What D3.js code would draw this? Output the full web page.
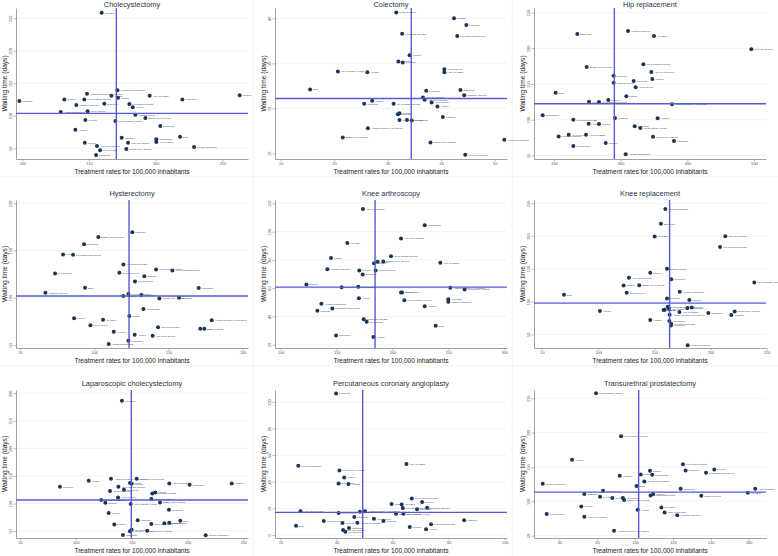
<!DOCTYPE html>
<html><head><meta charset="utf-8">
<script src="https://cdn.jsdelivr.net/npm/d3@7"></script>
<style>
body{margin:0;background:#fff}
svg{display:block}
text{font-family:"Liberation Sans",Arial,sans-serif}
</style>
</head><body>
<svg id="c" width="778" height="556"></svg>
<script>
const titles = ["Cholecystectomy","Colectomy","Hip replacement","Hysterectomy","Knee arthroscopy","Knee replacement","Laparoscopic cholecystectomy","Percutaneous coronary angioplasty","Transurethral prostatectomy"];
const xTitle = "Treatment rates for 100,000 inhabitants";
const yTitle = "Waiting time (days)";

const cholecystectomy = [
["Val d'Era",159.5,258.7],["Pistoiese",97.8,122.8],["Pratese",131.5,125],["Val di Chiana Senese",146.5,125],
["Amiata Senese e Val d'Orcia",148.5,134],["Firenze",166.8,131],["Fiorentina Nord-Ovest",171.3,139.2],["Pisana",171.8,128],
["Alta Val d'Elsa",195.5,131],["Casentino",220,125],["Mugello",263,131.5],["Valdarno Inferiore",140.5,116.7],
["Empolese",161.5,118.7],["Fiorentina Sud-Est",180.3,118.2],["Aretina",182.8,113.1],["Amiata Grossetana",128.8,105.9],
["Val di Nievole",149,107],["Piana di Lucca",184.8,101.8],["Bassa Val di Cecina",192.3,96.7],["Senese",147.3,93.6],
["Val di Chiana Aretina",169.8,92],["Livornese",203.5,84.4],["Apuane",139.8,78.7],["Valdarno",174.5,66.4],
["Elba",218.3,68],["Grossetana",200.5,63.8],["Val di Cornia",200.5,59.7],["Valle del Serchio",179.3,58.7],
["Versilia",146.8,58.7],["Alta Val di Cecina",156,53.6],["Colline dell'Albegna",178,49],["Colline Metallifere",228.8,52],
["Val Tiberina",158.3,46.9],["Lunigiana",155.3,39.7]];

const colectomy = [
["Piana di Lucca",31.6,41.3],["Pratese",42.4,40],["Pistoiese",44.7,38.5],["Fiorentina Nord-Ovest",43.0,36.1],
["Fiorentina Sud-Est",32.7,36.6],["Firenze",34.1,31.8],["Mugello",32.0,30.4],["Val d'Era",32.8,30.2],
["Val di Chiana Aretina",20.7,28.2],["Apuane",26.2,28],["Val di Nievole",40.6,28.7],["Alta Val d'Elsa",40.6,28.0],
["Elba",15.5,24.2],["Livornese",37.2,23.9],["Empolese",43.6,24.1],["Valdarno Inferiore",44.3,22.9],
["Valle del Serchio",36.6,22.4],["Alta Val di Cecina",36.9,21.9],["Val di Cornia",38.2,21.3],["Aretina",39.3,20.4],
["Pisana",27.1,21.7],["Lunigiana",25.6,21.0],["Val di Chiana Senese",31.1,21.0],["Casentino",31.9,18.7],
["Senese",32.2,18.9],["Valdarno",40.3,18.1],["Versilia",32.2,17.4],["Val Tiberina",33.6,17.4],
["Grossetana",34.5,17.3],["Amiata Senese e Val d'Orcia",26.3,15.6],["Bassa Val di Cecina",21.6,13.5],["Colline dell'Albegna",38.0,12.4],
["Amiata Grossetana",51.8,13.0],["Colline Metallifere",44.5,9.7]];

const hipReplacement = [
["Valdarno Inferiore",311,224.3],["Empolese",235,220.1],["Val d'Era",350,217.3],["Valle del Serchio",496,198.6],
["Val di Chiana Senese",334,177.6],["Bassa Val di Cecina",249,173.8],["Alta Val di Cecina",346,166.8],["Pistoiese",289.5,161.7],
["Versilia",347.5,157],["Livornese",319.5,154.2],["Piana di Lucca",289.5,151.9],["Val di Nievole",322.5,145.3],
["Elba",202.5,137.9],["Pisana",308.5,132.7],["Mugello",281.5,127.6],["Firenze",252.5,125.2],
["Fiorentina Nord-Ovest",267.5,124.8],["Amiata Senese e Val d'Orcia",377,121.5],["Grossetana",183,106.1],["Fiorentina Sud-Est",229,100],
["Valdarno",291.5,102.3],["Apuane",355.5,101.9],["Aretina",252,94.4],["Senese",267.5,93.9],
["Casentino",321,90.7],["Val di Chiana Aretina",329.5,88.3],["Colline dell'Albegna",348.5,76.2],["Lunigiana",380,70.1],
["Alta Val d'Elsa",248,79],["Val di Cornia",222,79],["Colline Metallifere",207,76.6],["Val Tiberina",229,63],
["Pratese",277.5,67.3],["Amiata Grossetana",307.5,51.4]];

const hysterectomy = [
["Pistoiese",125.6,169.4],["Bassa Val di Cecina",102.7,164.4],["Empolese",93.1,156.7],["Firenze",79,145.8],
["Fiorentina Nord-Ovest",85.7,145.4],["Fiorentina Sud-Est",119.6,135.2],["Val di Chiana Aretina",141.6,130],["Val di Chiana Senese",152.6,128.9],
["Piana di Lucca",116.9,126.4],["Val Tiberina",73.6,125.7],["Pratese",133.7,122.9],["Val di Nievole",127.4,117.3],
["Elba",93.8,110.6],["Casentino",170.3,110.2],["Valdarno Inferiore",67.1,105.3],["Colline Metallifere",123,103.9],
["Mugello",119.6,101.8],["Livornese",131.7,102.8],["Colline dell'Albegna",143.8,99.3],["Valdarno",157.1,100],
["Grossetana",133.1,88],["Pisana",123.6,80.6],["Versilia",86.4,78.2],["Val d'Era",105.9,76.8],
["Val di Cornia",97.4,70.8],["Amiata Senese e Val d'Orcia",179.1,76.1],["Valle del Serchio",142.9,68.7],["Senese",171.4,67.3],
["Alta Val d'Elsa",174.1,67.3],["Apuane",113.1,64.1],["Aretina",127.2,60.9],["Alta Val di Cecina",139.3,59.9],
["Lunigiana",123,54.6],["Amiata Grossetana",109.7,51]];

const kneeArthroscopy = [
["Valle del Serchio",173.6,116],["Grossetana",228.8,104.5],["Alta Val di Cecina",207.6,95.1],["Val d'Era",159.6,92],
["Pisana",145,81.4],["Val di Chiana Senese",198.7,82.6],["Firenze",186.7,78.6],["Mugello",183.5,77.6],
["Bassa Val di Cecina",191.8,78.8],["Alta Val d'Elsa",242.8,77.9],["Valdarno Inferiore",141.7,73.4],["Senese",170.3,72.5],
["Piana di Lucca",184.9,72.5],["Livornese",173.3,69.6],["Pratese",123,62.6],["Empolese",154.5,60.7],
["Val di Nievole",169.4,60.9],["Amiata Senese e Val d'Orcia",251.7,60.2],["Colline dell'Albegna",264.5,59.1],["Valdarno",207.6,56.9],
["Val di Cornia",208.5,56.9],["Val di Chiana Aretina",210.6,51.5],["Versilia",170,52.9],["Lunigiana",249.9,52.2],
["Colline Metallifere",249.9,50.4],["Apuane",228.8,47.1],["Amiata Grossetana",136.4,48.9],["Fiorentina Nord-Ovest",146.2,45.6],
["Pistoiese",132.8,44],["Fiorentina Sud-Est",174.2,37.9],["Val Tiberina",176.9,36.2],["Elba",238.6,33.4],
["Casentino",149.5,26.4],["Aretina",182.9,25.4]];

const kneeReplacement = [
["Valdarno Inferiore",159.8,241.4],["Empolese",155.9,219],["Val d'Era",150.3,199.2],["Valle del Serchio",213.2,199.7],
["Val di Chiana Senese",208.5,183.5],["Piana di Lucca",161.3,150],["Versilia",146.4,143.9],["Alta Val di Cecina",127.4,136.3],
["Livornese",165.1,134.3],["Val di Chiana Aretina",239,129.2],["Pisana",122.7,124.6],["Bassa Val di Cecina",136.6,125.1],
["Val di Nievole",125.4,113.5],["Amiata Grossetana",172.6,115],["Elba",69.6,110.4],["Pistoiese",161.3,104.8],
["Mugello",181.2,102.3],["Firenze",101.6,85.5],["Fiorentina Nord-Ovest",161.9,92.1],["Pratese",159.2,87.6],
["Senese",158.3,87.1],["Val di Cornia",163.1,89.1],["Grossetana",179.4,90.1],["Aretina",183.3,91.1],
["Alta Val d'Elsa",172.3,84],["Casentino",198.1,82.5],["Colline dell'Albegna",221.5,85],["Valdarno",218.5,79.4],
["Amiata Senese e Val d'Orcia",163.6,80],["Apuane",146.4,71.8],["Val Tiberina",163.4,70.3],["Fiorentina Sud-Est",165.1,65.7],
["Lunigiana",164.8,63.7],["Colline Metallifere",179.7,33.3]];

const lapCholecystectomy = [
["Val d'Era",141.3,286.7],["Pisana",111.5,141.2],["Amiata Senese e Val d'Orcia",131.5,144.8],["Fiorentina Nord-Ovest",154.5,144.8],
["Firenze",148.5,137],["Pratese",150,135.7],["Alta Val d'Elsa",183.7,136.4],["Casentino",201.9,134],
["Mugello",239.6,136.4],["Pistoiese",85.8,130.3],["Val di Chiana Senese",138.1,130.3],["Valdarno Inferiore",130.6,122.5],
["Empolese",143.1,124.9],["Fiorentina Sud-Est",168.5,118.2],["Aretina",171.2,120],["Val di Nievole",137.8,111],
["Piana di Lucca",167.6,108],["Amiata Grossetana",122.8,106.2],["Senese",126.4,101.3],["Val di Chiana Aretina",149.1,98.9],
["Bassa Val di Cecina",175.4,101.9],["Livornese",183.4,88.6],["Apuane",129.4,82.6],["Valdarno",155.4,69.3],
["Elba",193.6,68.7],["Versilia",134.5,62],["Valle del Serchio",167.6,62.7],["Grossetana",179.3,63.9],
["Val di Cornia",183.7,65.1],["Val Tiberina",150,52.4],["Alta Val di Cecina",148.5,49.4],["Colline dell'Albegna",164,50.6],
["Lunigiana",142.2,42.8],["Colline Metallifere",216.3,42.2]];

const coronaryAngioplasty = [
["Lunigiana",39.8,106.3],["Alta Val d'Elsa",64.9,53.3],["Colline Metallifere",26.3,52],["Colline dell'Albegna",41,48.5],
["Versilia",42.7,43.3],["Grossetana",40.7,38.8],["Apuane",44.2,38.3],["Val di Chiana Senese",66.8,27.5],
["Senese",70.5,24.8],["Pisana",59.6,23.3],["Val d'Era",63.2,23],["Fiorentina Nord-Ovest",63.6,20.3],
["Empolese",68.7,19.3],["Valdarno Inferiore",72.3,20.5],["Alta Val di Cecina",27.1,17.8],["Val di Nievole",40.7,16.5],
["Pratese",48.3,17.5],["Amiata Senese e Val d'Orcia",50.1,17.8],["Bassa Val di Cecina",61.2,16],["Val di Chiana Aretina",63.8,16],
["Livornese",46.3,13.5],["Val di Cornia",53.3,12.3],["Pistoiese",56.7,10.5],["Piana di Lucca",35.4,10.5],
["Valdarno",85.5,11],["Firenze",42.1,9],["Amiata Grossetana",47.4,9.3],["Elba",25.5,7],
["Fiorentina Sud-Est",73.7,8],["Mugello",66.1,6],["Aretina",71.9,4.3],["Casentino",44.4,5.3],
["Valle del Serchio",42.3,3.8],["Val Tiberina",43.1,2.5]];

const prostatectomy = [
["Val di Chiana Aretina",79.4,257.3],["Val di Chiana Senese",92.6,194.8],["Aretina",66.7,160.4],["Fiorentina Sud-Est",125.3,154.1],
["Firenze",141.9,146.3],["Pistoiese",126.7,144.9],["Fiorentina Nord-Ovest",137.5,141.5],["Pisana",107.9,144.4],
["Pratese",103,139],["Grossetana",109.1,138.6],["Valdarno",91.9,137.1],["Colline dell'Albegna",104.9,128.9],
["Colline Metallifere",51.2,125.5],["Elba",100.8,122.1],["Empolese",124.1,118.2],["Alta Val d'Elsa",163.5,118.2],
["Val di Nievole",83.1,115.3],["Val d'Era",159.6,112.4],["Casentino",73.2,110.5],["Mugello",109.6,110.5],
["Amiata Grossetana",108.2,108.5],["Piana di Lucca",135,108],["Livornese",81.5,106.6],["Senese",88,104.7],
["Val Tiberina",93.6,104.7],["Bassa Val di Cecina",94.2,101.7],["Versilia",71.6,92.5],["Apuane",101.4,87.7],
["Lunigiana",113.9,91.1],["Valle del Serchio",115.6,83.8],["Valdarno Inferiore",122.3,79.5],["Val di Cornia",53.3,81.4],
["Alta Val di Cecina",73.2,77.5],["Amiata Senese e Val d'Orcia",88.9,57.2]];

const xTicks = [[100,150,200,250],[10,20,30,40,50],[200,300,400,500],[50,100,150,200],[100,150,200,250,300],[50,100,150,200,250],[50,100,150,200,250],[20,40,60,80,100],[60,80,100,120,140,160]];
const yTicks = [[50,100,150,200,250],[10,20,30,40],[50,100,150,200,250],[50,100,150,200],[20,40,60,80,100,120],[50,100,150,200,250],[50,100,150,200,250,300],[0,20,40,60,80,100],[50,100,150,200,250]];
const xRanges = [[95.25,269.25],[8.94,52.3],[170,518],[47.3,203.5],[94.9,302.4],[42.9,249.4],[46.4,254.2],[18,100.8],[46.6,169.2]];
const yRanges = [[33.6,265.9],[8.74,42.3],[44.9,256.5],[46.8,203.5],[17.6,122.4],[29.2,255.1],[37.3,306],[-2.25,109],[46.5,262.1]];
const refX = [170.5,34.4,290.5,123.4,184.4,163.6,149.7,49.3,101.9];
const refY = [103.8,22.2,122.4,101.8,60.7,97.7,106.2,17,113.4];

const panels = [cholecystectomy,colectomy,hipReplacement,hysterectomy,kneeArthroscopy,kneeReplacement,lapCholecystectomy,coronaryAngioplasty,prostatectomy];

const svg = d3.select("#c");
svg.append("rect").attr("width",778).attr("height",556).attr("fill","#fff");

// faint separators between graphs
[253.3,512.3].forEach(v=>svg.append("line").attr("x1",v).attr("x2",v).attr("y1",0).attr("y2",556).attr("stroke","#eeeeee").attr("stroke-width",0.7));
[176.7,365.7].forEach(v=>svg.append("line").attr("y1",v).attr("y2",v).attr("x1",0).attr("x2",778).attr("stroke","#eeeeee").attr("stroke-width",0.7));

const colX = [0,259,518];
const rowTop = [8,200,390], rowBottom = [159,348,538], titleBase = [6.5,196,386];
const navy = "#1b3556", refColor = "#5858d8";

panels.forEach((pts,i)=>{
  const c = i%3, r = Math.floor(i/3);
  const x0 = colX[c]+16, x1 = colX[c]+248, y0 = rowTop[r], y1 = rowBottom[r];
  const x = d3.scaleLinear().domain(xRanges[i]).range([x0,x1]);
  const y = d3.scaleLinear().domain(yRanges[i]).range([y1,y0]);
  const g = svg.append("g");

  g.selectAll("line.grid").data(yTicks[i]).join("line").attr("class","grid")
    .attr("x1",x0).attr("x2",x1).attr("y1",d=>y(d)).attr("y2",d=>y(d))
    .attr("stroke","#e7ebef").attr("stroke-width",0.6);

  const xa = g.append("g").attr("transform",`translate(0,${y1})`)
    .call(d3.axisBottom(x).tickValues(xTicks[i]).tickSize(2.5).tickPadding(1.2).tickSizeOuter(0).tickFormat(d3.format("d")));
  const ya = g.append("g").attr("transform",`translate(${x0},0)`)
    .call(d3.axisLeft(y).tickValues(yTicks[i]).tickSize(2.5).tickSizeOuter(0).tickFormat(d3.format("d")));
  [xa,ya].forEach(a=>{
    a.select(".domain").attr("stroke","#8a8a8a").attr("stroke-width",0.8);
    a.selectAll(".tick line").attr("stroke","#8a8a8a").attr("stroke-width",0.6);
    a.selectAll("text").attr("font-size",3.8).attr("fill","#555").attr("font-family","Liberation Sans, Arial, sans-serif");
  });
  ya.selectAll(".tick text").attr("x",null).attr("dy",null)
    .attr("text-anchor","middle").attr("transform","translate(-4,0) rotate(-90)");

  // points (drawn first so reference lines stay visible)
  g.selectAll("circle").data(pts).join("circle")
    .attr("cx",d=>x(d[1])).attr("cy",d=>y(d[2])).attr("r",2).attr("fill",navy);

  // reference lines
  g.append("line").attr("x1",x(refX[i])).attr("x2",x(refX[i])).attr("y1",y0).attr("y2",y1)
    .attr("stroke",refColor).attr("stroke-width",1.4);
  g.append("line").attr("x1",x0).attr("x2",x1).attr("y1",y(refY[i])).attr("y2",y(refY[i]))
    .attr("stroke",refColor).attr("stroke-width",1.4);

  g.selectAll("text.lbl").data(pts).join("text").attr("class","lbl")
    .attr("x",d=>x(d[1])+3).attr("y",d=>y(d[2])).attr("dy","0.35em")
    .attr("font-size",2.5).attr("fill","#2b4262").text(d=>d[0]);

  // titles
  g.append("text").attr("x",(x0+x1)/2).attr("y",titleBase[r]).attr("text-anchor","middle")
    .attr("font-size",7.4).attr("fill","#26344a").text(titles[i]);
  g.append("text").attr("x",(x0+x1)/2).attr("y",y1+15).attr("text-anchor","middle")
    .attr("font-size",6.6).attr("fill","#222").text(xTitle);
  g.append("text").attr("transform",`translate(${colX[c]+7},${(y0+y1)/2}) rotate(-90)`).attr("text-anchor","middle")
    .attr("font-size",6.6).attr("fill","#222").text(yTitle);
});
</script>
</body></html>
